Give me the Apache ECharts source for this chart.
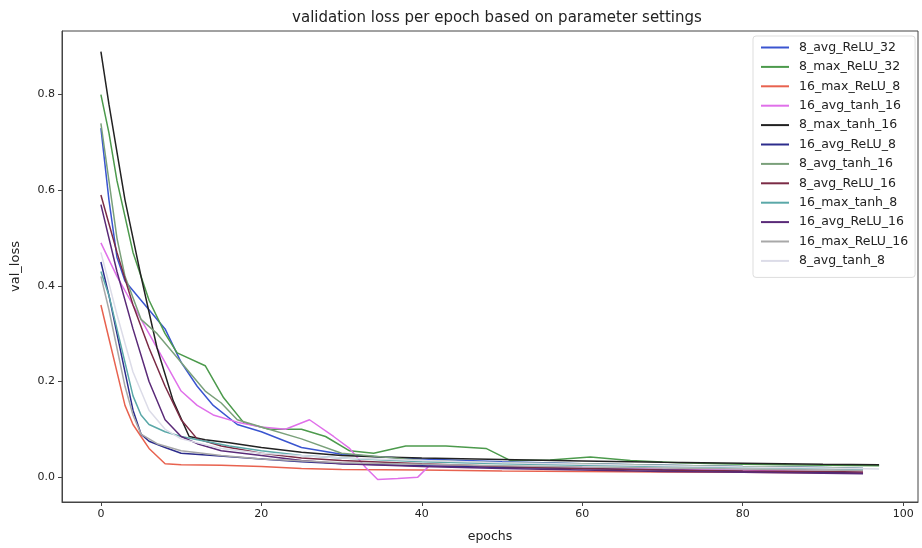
<!DOCTYPE html>
<html>
<head>
<meta charset="utf-8">
<script src="https://cdn.jsdelivr.net/npm/echarts@6/dist/echarts.min.js"></script>
<style>html,body{margin:0;padding:0;background:#fff}#c{width:922px;height:548px}</style>
</head>
<body>
<div id="c"></div>
<script>
// ---- data ----
const seriesNames = ['8_avg_ReLU_32','8_max_ReLU_32','16_max_ReLU_8','16_avg_tanh_16','8_max_tanh_16','16_avg_ReLU_8','8_avg_tanh_16','8_avg_ReLU_16','16_max_tanh_8','16_avg_ReLU_16','16_max_ReLU_16','8_avg_tanh_8'];

const ep_8_avg_ReLU_32 = [0,1,2,3,5,8,10,12,14,17,20,25,30,35,40,50,60,70,80,90,95];
const val_8_avg_ReLU_32 = [0.73,0.58,0.46,0.41,0.37,0.31,0.24,0.19,0.15,0.11,0.095,0.062,0.048,0.042,0.038,0.032,0.028,0.025,0.022,0.02,0.018];

const ep_8_max_ReLU_32 = [0,1,2,4,6,8,9.5,13,15.3,17.8,21,25,28,31,34,38,43,48,51,56,61,66,72,80,90,97];
const val_8_max_ReLU_32 = [0.80,0.72,0.62,0.47,0.37,0.30,0.26,0.233,0.166,0.114,0.10,0.10,0.085,0.055,0.05,0.065,0.065,0.06,0.035,0.036,0.042,0.035,0.03,0.027,0.025,0.024];

const ep_16_max_ReLU_8 = [0,1,2,3,4,5,6,8,10,15,20,25,30,40,50,60,70,80,90,95];
const val_16_max_ReLU_8 = [0.36,0.29,0.22,0.15,0.11,0.085,0.06,0.028,0.026,0.025,0.022,0.018,0.016,0.015,0.013,0.012,0.011,0.01,0.009,0.009];

const ep_16_avg_tanh_16 = [0,2,4,6,8,10,12,14,17,20,23,26,29,31,33,34.5,37,39.5,41,45,50,60,70,80,90,95];
const val_16_avg_tanh_16 = [0.49,0.42,0.36,0.30,0.24,0.18,0.15,0.13,0.115,0.105,0.10,0.12,0.085,0.06,0.02,-0.005,-0.003,0.0,0.025,0.024,0.022,0.02,0.017,0.015,0.012,0.01];

const ep_8_max_tanh_16 = [0,1,3,5,7,9,11,13,16,20,25,30,35,40,50,60,70,80,90,97];
const val_8_max_tanh_16 = [0.89,0.78,0.58,0.42,0.27,0.16,0.085,0.078,0.072,0.062,0.052,0.045,0.042,0.04,0.037,0.034,0.031,0.029,0.027,0.026];

const ep_16_avg_ReLU_8 = [0,1,2,3,4,5,6,8,10,14,20,25,30,40,50,60,70,80,90,95];
const val_16_avg_ReLU_8 = [0.45,0.38,0.30,0.22,0.14,0.09,0.075,0.062,0.05,0.045,0.038,0.032,0.028,0.024,0.02,0.018,0.015,0.012,0.01,0.008];

const ep_8_avg_tanh_16 = [0,1,2,3,5,7,9,11,13,15,17,20,25,30,40,50,60,70,80,90,95];
const val_8_avg_tanh_16 = [0.74,0.62,0.5,0.42,0.33,0.3,0.26,0.22,0.18,0.155,0.12,0.105,0.08,0.05,0.035,0.03,0.028,0.025,0.022,0.02,0.018];

const ep_8_avg_ReLU_16 = [0,2,4,6,8,10,12,15,20,25,30,40,50,60,70,80,90,95];
const val_8_avg_ReLU_16 = [0.59,0.47,0.36,0.27,0.19,0.12,0.08,0.065,0.05,0.04,0.035,0.028,0.022,0.018,0.015,0.013,0.012,0.011];

const ep_16_max_tanh_8 = [0,1,2,3,4,5,6,8,10,13,16,20,25,30,40,50,60,70,80,90,95];
const val_16_max_tanh_8 = [0.43,0.38,0.31,0.24,0.17,0.13,0.11,0.095,0.085,0.075,0.065,0.055,0.045,0.04,0.032,0.028,0.025,0.022,0.02,0.018,0.016];

const ep_16_avg_ReLU_16 = [0,2,4,6,8,10,12,15,20,25,30,40,50,60,70,80,90,95];
const val_16_avg_ReLU_16 = [0.57,0.43,0.31,0.2,0.12,0.085,0.07,0.055,0.045,0.035,0.028,0.022,0.018,0.015,0.012,0.01,0.008,0.007];

const ep_16_max_ReLU_16 = [0,1,2,3,4,5,7,10,15,20,30,40,50,60,70,80,90,95];
const val_16_max_ReLU_16 = [0.42,0.35,0.27,0.19,0.13,0.09,0.07,0.055,0.045,0.038,0.03,0.027,0.024,0.021,0.019,0.017,0.015,0.014];

const ep_8_avg_tanh_8 = [0,2,4,6,8,10,15,20,30,40,50,60,70,80,90,97];
const val_8_avg_tanh_8 = [0.47,0.34,0.22,0.14,0.1,0.08,0.06,0.05,0.04,0.035,0.03,0.027,0.024,0.021,0.019,0.017];

const xTicks = [0,20,40,60,80,100];
const yTicks = [0,0.2,0.4,0.6,0.8];

// ---- styling ----
const epochArrays = [ep_8_avg_ReLU_32,ep_8_max_ReLU_32,ep_16_max_ReLU_8,ep_16_avg_tanh_16,ep_8_max_tanh_16,ep_16_avg_ReLU_8,ep_8_avg_tanh_16,ep_8_avg_ReLU_16,ep_16_max_tanh_8,ep_16_avg_ReLU_16,ep_16_max_ReLU_16,ep_8_avg_tanh_8];
const valueArrays = [val_8_avg_ReLU_32,val_8_max_ReLU_32,val_16_max_ReLU_8,val_16_avg_tanh_16,val_8_max_tanh_16,val_16_avg_ReLU_8,val_8_avg_tanh_16,val_8_avg_ReLU_16,val_16_max_tanh_8,val_16_avg_ReLU_16,val_16_max_ReLU_16,val_8_avg_tanh_8];
const colors = ['#3a55d0','#4c9a4c','#e8624f','#e070ea','#222222','#2c2c8c','#7aa07a','#7b2b45','#5aa8a8','#5a2a78','#a8a8a8','#dcdce8'];

const series = seriesNames.map((n,i)=>({
  name:n, type:'line', showSymbol:false, symbol:'none', silent:true,
  lineStyle:{width:1.5,color:colors[i]}, itemStyle:{color:colors[i]},
  data: epochArrays[i].map((e,j)=>[e,valueArrays[i][j]])
}));

const FONT = 'DejaVu Sans';
const chart = echarts.init(document.getElementById('c'), null, {renderer:'canvas'});
chart.setOption({
  animation:false,
  backgroundColor:'#fff',
  textStyle:{fontFamily:FONT},
  title:{text:'validation loss per epoch based on parameter settings', left:492, top:6, textAlign:'center',
    textStyle:{fontFamily:FONT,fontSize:15,fontWeight:'normal',color:'#222'}},
  grid:{left:62, right:4, top:31, bottom:43, show:true, borderColor:'#444', borderWidth:1, backgroundColor:'transparent'},
  legend:{orient:'vertical', left:753, top:36, padding:[5,7,10,8], itemGap:6.4,
    backgroundColor:'#fff', borderColor:'#ddd', borderWidth:1, borderRadius:3,
    itemWidth:28, itemHeight:2, icon:'rect',
    textStyle:{fontFamily:FONT,fontSize:12.5,color:'#222',lineHeight:13,padding:[0,0,0,5]},
    data:seriesNames},
  xAxis:{type:'value', min:-4.85, max:101.85,
    name:'epochs', nameLocation:'middle', nameGap:28, nameTextStyle:{fontFamily:FONT,fontSize:12.5,color:'#222'},
    axisLine:{show:true,onZero:false,lineStyle:{color:'#444'}},
    axisTick:{show:true,length:4,customValues:xTicks,lineStyle:{color:'#444'}},
    axisLabel:{customValues:xTicks,fontFamily:FONT,fontSize:11,color:'#222',margin:7},
    splitLine:{show:false}},
  yAxis:{type:'value', min:-0.052, max:0.933,
    name:'val_loss', nameLocation:'middle', nameGap:40, nameTextStyle:{fontFamily:FONT,fontSize:13,color:'#222'},
    axisLine:{show:true,onZero:false,lineStyle:{color:'#444'}},
    axisTick:{show:true,length:4,customValues:yTicks,lineStyle:{color:'#444'}},
    axisLabel:{customValues:yTicks,fontFamily:FONT,fontSize:11,color:'#222',margin:7,formatter:v=>v.toFixed(1)},
    splitLine:{show:false}},
  series:series
});
</script>
</body>
</html>
